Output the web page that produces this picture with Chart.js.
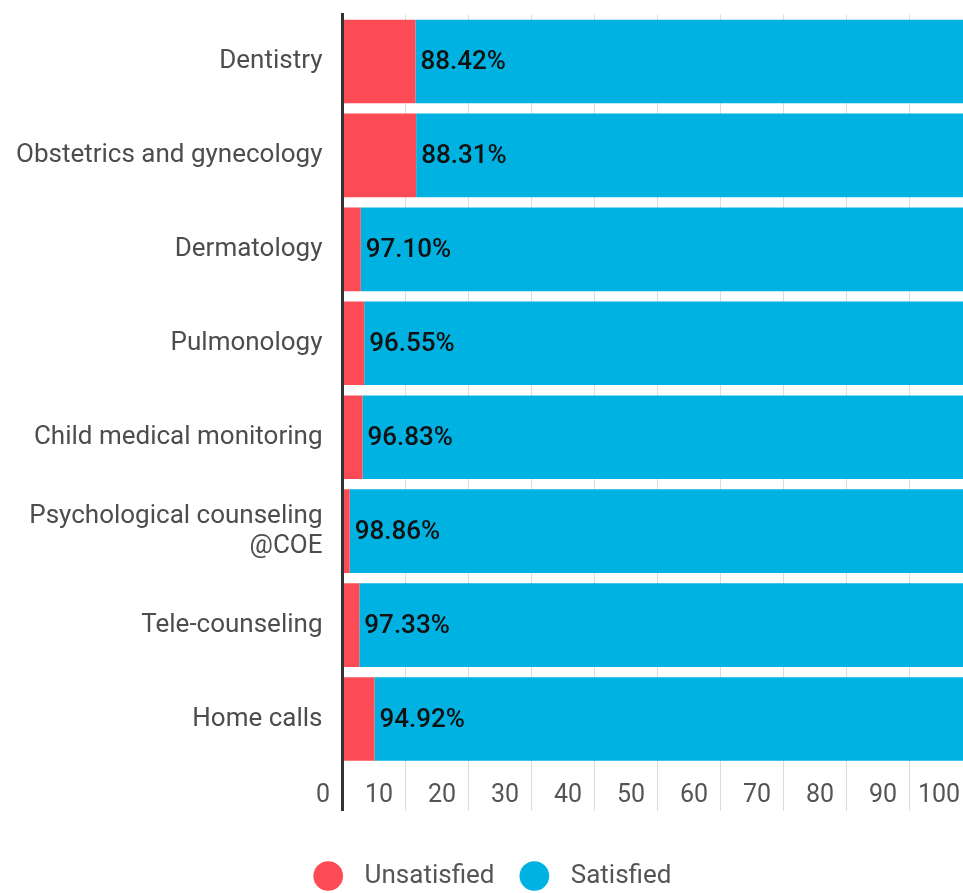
<!DOCTYPE html>
<html>
<head>
<meta charset="utf-8">
<script src="https://cdn.jsdelivr.net/npm/chart.js@4"></script>
<style>
  body { margin: 0; overflow: hidden; background: #fff; }
  #caixa { width: 980px; height: 899px; }
</style>
</head>
<body>
<div id="caixa"><canvas id="grafico" width="980" height="899"></canvas></div>
<script>
const categorias = ['Dentistry', 'Obstetrics and gynecology', 'Dermatology', 'Pulmonology',
  'Child medical monitoring', ['Psychological counseling', '@COE'], 'Tele-counseling', 'Home calls'];
const insatisfeitos = [11.58, 11.69, 2.90, 3.45, 3.17, 1.14, 2.67, 5.08];
const satisfeitos = [88.42, 88.31, 97.10, 96.55, 96.83, 98.86, 97.33, 94.92];
const ticksX = [0, 10, 20, 30, 40, 50, 60, 70, 80, 90, 100];

const fonte = 'Roboto';

// rotulos de porcentagem no inicio da barra azul
const etiquetas = {
  id: 'etiquetas',
  afterLayout(chart) {
    // empurra a legenda um pouco para a direita
    chart.legend.left += 36;
  },
  afterDatasetsDraw(chart) {
    const ctx = chart.ctx;
    const meta = chart.getDatasetMeta(1);
    ctx.save();
    ctx.font = '500 26px ' + fonte;
    ctx.fillStyle = '#111';
    ctx.textAlign = 'left';
    ctx.textBaseline = 'middle';
    meta.data.forEach((barra, i) => {
      ctx.fillText(satisfeitos[i].toFixed(2) + '%', barra.base + 5, barra.y + 1);
    });
    ctx.restore();
  }
};

const ctx = document.getElementById('grafico').getContext('2d');
const grafico = new Chart(ctx, {
  type: 'bar',
  data: {
    labels: categorias,
    datasets: [{
      label: 'Unsatisfied',
      data: insatisfeitos,
      backgroundColor: '#fd4b55',
      borderWidth: 0
    }, {
      label: 'Satisfied',
      data: satisfeitos,
      backgroundColor: '#00b2e2',
      borderWidth: 0
    }]
  },
  options: {
    indexAxis: 'y',
    responsive: false,
    animation: false,
    categoryPercentage: 1,
    barPercentage: 0.89,
    layout: { padding: { left: 0, top: 14.5, right: 7.5, bottom: 0 } },
    plugins: {
      tooltip: { enabled: false },
      legend: {
        position: 'bottom',
        labels: {
          usePointStyle: true,
          pointStyle: 'circle',
          boxWidth: 21,
          boxHeight: 21,
          padding: 10,
          color: '#555',
          font: { family: fonte, size: 26 },
          generateLabels(chart) {
            const itens = Chart.defaults.plugins.legend.labels.generateLabels(chart);
            itens.forEach(it => { it.text = '  ' + it.text + '   '; });
            return itens;
          }
        }
      }
    },
    scales: {
      x: {
        stacked: true,
        min: 0,
        max: 100,
        afterBuildTicks(scale) { scale.ticks = ticksX.map(v => ({ value: v })); },
        afterFit(scale) {
          scale.height = 87;
          scale.paddingLeft = 0;
          scale.paddingRight = 0;
        },
        border: { display: false },
        grid: {
          color: c => c.index === 0 ? '#333' : '#dcdcdc',
          lineWidth: c => c.index === 0 ? 3 : 1,
          drawTicks: true,
          tickLength: 45
        },
        ticks: {
          autoSkip: false,
          maxRotation: 0,
          align: 'end',
          padding: -30,
          color: '#555',
          font: { family: fonte, size: 25 },
          callback: v => v + '  '
        }
      },
      y: {
        stacked: true,
        z: 1,
        afterFit(scale) {
          scale.width = 342.5;
          scale.paddingTop = 0;
          scale.paddingBottom = 0;
        },
        grid: { display: false },
        border: { color: '#333', width: 3 },
        ticks: {
          padding: 12,
          color: '#4d4d4d',
          font: { family: fonte, size: 26, lineHeight: 1.15 }
        }
      }
    }
  },
  plugins: [etiquetas]
});
</script>
</body>
</html>
